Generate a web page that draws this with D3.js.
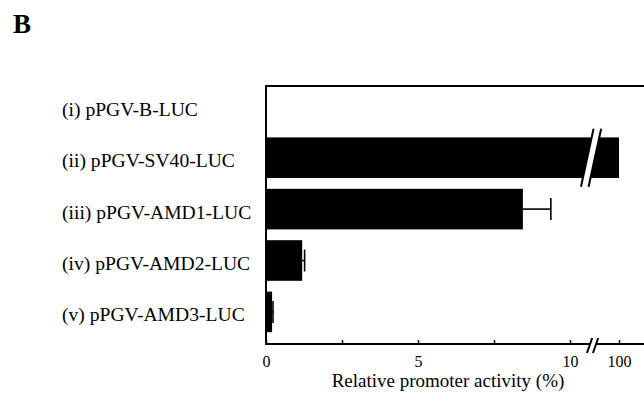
<!DOCTYPE html>
<html>
<head>
<meta charset="utf-8">
<script src="https://cdn.jsdelivr.net/npm/d3@7/dist/d3.min.js"></script>
<style>
  html, body { margin: 0; padding: 0; background: #fff; }
  svg { display: block; }
  text { font-family: "Liberation Serif", "Times New Roman", serif; fill: #000; }
</style>
</head>
<body>
<svg id="chart" width="644" height="395"></svg>
<script>
const categories = ["(i) pPGV-B-LUC", "(ii) pPGV-SV40-LUC", "(iii) pPGV-AMD1-LUC", "(iv) pPGV-AMD2-LUC", "(v) pPGV-AMD3-LUC"];
const values = [0, 100, 8.45, 1.19, 0.2];
const errors = [0, 0, 0.92, 0.08, 0.03];
const tickValues = [0, 2.5, 5, 7.5, 10, 100];
const tickLabels = ["0", "", "5", "", "10", "100"];
const panelLabel = "B";
const axisTitle = "Relative promoter activity (%)";

const svg = d3.select("#chart");
const plotLeft = 266, plotTop = 86, plotBottom = 344, plotRightEdge = 660;

// broken axis: 0–10 linear, then jump to 100
const x = d3.scaleLinear().domain([0, 10, 100]).range([plotLeft, 570, 619]);
const y = d3.scaleBand().domain(categories).range([plotTop, plotBottom - 1])
  .paddingInner(0.21).paddingOuter(0.105).align(0);

const data = categories.map((c, i) => ({ c, v: values[i], e: errors[i] }));

// panel label
svg.append("text").attr("x", 13).attr("y", 33)
  .attr("font-size", 27).attr("font-weight", "bold").text(panelLabel);

// category labels
svg.append("g").selectAll("text").data(data).join("text")
  .attr("x", 62)
  .attr("y", d => y(d.c) + y.bandwidth() / 2 + 9.5)
  .attr("font-size", 19.6)
  .text(d => d.c);

// bars
svg.append("g").selectAll("rect").data(data.filter(d => d.v > 0)).join("rect")
  .attr("x", x(0))
  .attr("y", d => y(d.c))
  .attr("width", d => x(d.v) - x(0))
  .attr("height", y.bandwidth())
  .attr("fill", "#000");

// error bars
const eb = svg.append("g").attr("stroke", "#000").attr("stroke-width", 1.6);
data.filter(d => d.e > 0).forEach(d => {
  const cy = y(d.c) + y.bandwidth() / 2;
  eb.append("line").attr("x1", x(d.v)).attr("x2", x(d.v + d.e)).attr("y1", cy).attr("y2", cy);
  eb.append("line").attr("x1", x(d.v + d.e)).attr("x2", x(d.v + d.e)).attr("y1", cy - 11).attr("y2", cy + 11);
});

// frame
const frame = svg.append("g").attr("stroke", "#000").attr("stroke-width", 2).attr("fill", "none");
frame.append("line").attr("x1", plotLeft).attr("x2", plotRightEdge).attr("y1", plotTop).attr("y2", plotTop);
frame.append("line").attr("x1", plotLeft).attr("x2", plotLeft).attr("y1", plotTop - 1).attr("y2", plotBottom + 1);

// x axis
const axis = d3.axisBottom(x).tickValues(tickValues)
  .tickFormat((d, i) => tickLabels[i])
  .tickSizeInner(-4).tickSizeOuter(0).tickPadding(12);
const ax = svg.append("g").attr("transform", `translate(0,${plotBottom})`).call(axis);
ax.select(".domain").remove();
ax.selectAll(".tick line").attr("stroke", "#000").attr("stroke-width", 1.5);
ax.selectAll(".tick text").attr("font-size", 16).attr("font-family", "Liberation Serif, serif");
svg.append("line").attr("x1", plotLeft - 1).attr("x2", plotRightEdge).attr("y1", plotBottom).attr("y2", plotBottom)
  .attr("stroke", "#000").attr("stroke-width", 2);

// break markers
const breakX = x(10) + 0.43 * (x(100) - x(10));
function breakMark(cx, cy, halfH, slope, halfGap) {
  const g = svg.append("g");
  const px = (yy, off) => cx + off + (cy - yy) * slope;
  const y0 = cy - halfH, y1 = cy + halfH;
  g.append("polygon")
    .attr("points", [[px(y1, -halfGap), y1], [px(y0, -halfGap), y0], [px(y0, halfGap), y0], [px(y1, halfGap), y1]].map(p => p.join(",")).join(" "))
    .attr("fill", "#fff");
  [-halfGap, halfGap].forEach(off => {
    g.append("line").attr("x1", px(y1, off)).attr("y1", y1).attr("x2", px(y0, off)).attr("y2", y0)
      .attr("stroke", "#000").attr("stroke-width", 2);
  });
}
const barII = data[1];
breakMark(breakX, y(barII.c) + y.bandwidth() / 2, 29, 0.217, 3.8);
breakMark(breakX + 1.5, plotBottom + 1.5, 7.5, 0.35, 3);

// axis title
svg.append("text").attr("x", 448).attr("y", 387).attr("text-anchor", "middle")
  .attr("font-size", 19).text(axisTitle);
</script>
</body>
</html>
